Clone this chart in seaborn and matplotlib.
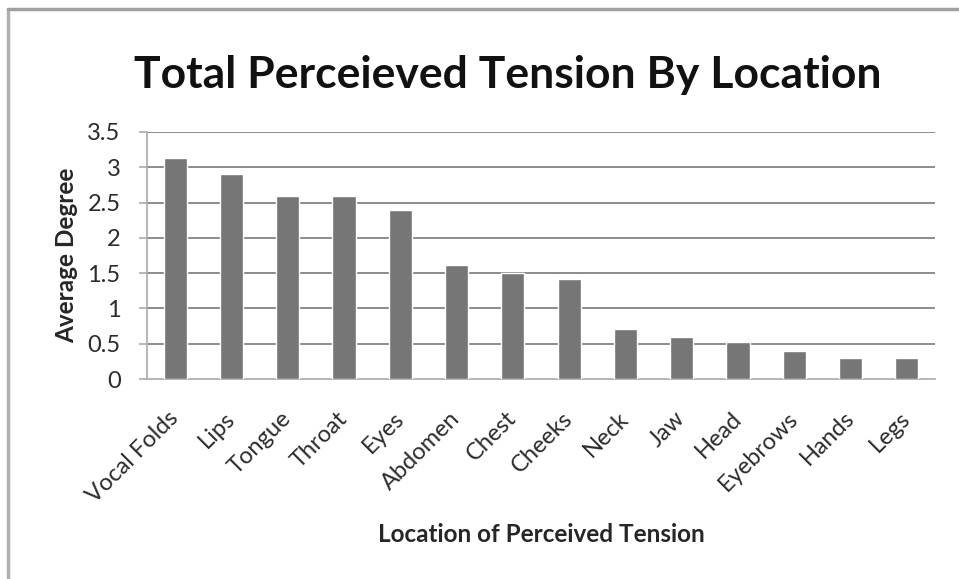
import matplotlib
matplotlib.use("Agg")
import matplotlib.pyplot as plt
import seaborn as sns
import pandas as pd
import numpy as np

locations = ["Vocal Folds", "Lips", "Tongue", "Throat", "Eyes", "Abdomen", "Chest",
             "Cheeks", "Neck", "Jaw", "Head", "Eyebrows", "Hands", "Legs"]
avg_degree = [3.13, 2.90, 2.60, 2.60, 2.40, 1.62, 1.50, 1.42, 0.71, 0.60, 0.52, 0.40, 0.30, 0.30]
y_ticks = [0, 0.5, 1, 1.5, 2, 2.5, 3, 3.5]
y_tick_labels = ["0", "0.5", "1", "1.5", "2", "2.5", "3", "3.5"]

df = pd.DataFrame({"Location": locations, "Average Degree": avg_degree})

sns.set_theme(style="white")
plt.rcParams['font.family'] = ['Lato', 'DejaVu Sans']

fig = plt.figure(figsize=(9.59, 5.79), dpi=100)
ax = fig.add_axes([147/959, 1 - 379/579, (935 - 147)/959, (379 - 132)/579])

sns.barplot(data=df, x="Location", y="Average Degree", color="#767676",
            width=0.41, saturation=1, ax=ax, zorder=3)

ax.set_ylim(0, 3.5)
ax.set_xlim(-0.5, len(locations) - 0.5)
ax.set_yticks(y_ticks)
ax.set_yticklabels(y_tick_labels, fontsize=17, color="#2b2b2b")
for y in y_ticks[1:]:
    ax.axhline(y, color="#8c8c8c", linewidth=1.4, zorder=1)

ax.set_xticks(np.arange(len(locations)))
ax.set_xticklabels(locations, rotation=45, ha="right", va="center", rotation_mode="anchor",
                   fontsize=17, color="#2b2b2b")
ax.tick_params(axis="x", length=0, pad=26)
ax.set_xticks(np.arange(len(locations) + 1) - 0.5, minor=True)
ax.tick_params(axis="x", which="minor", length=6, color="#aaaaaa", width=1.2, direction="out")
ax.tick_params(axis="y", length=6, color="#aaaaaa", width=1.2, direction="out", pad=13, left=True)

for side in ["top", "right"]:
    ax.spines[side].set_visible(False)
for side in ["left", "bottom"]:
    ax.spines[side].set_color("#aaaaaa")
    ax.spines[side].set_linewidth(1.2)

ax.set_xlabel("Location of Perceived Tension", fontsize=17.5, fontweight="bold")
ax.set_ylabel("Average Degree", fontsize=17.5, fontweight="bold")
ax.xaxis.set_label_coords(0.5, -(523 - 379) / 247)
ax.yaxis.set_label_coords(-(147 - 78) / 788, 0.5)
fig.text(508/959, 1 - 75/579, "Total Perceieved Tension By Location", fontsize=32,
         fontweight="bold", ha="center", va="center", color="#111111")

# chart border (only top and left edges visible in the crop)
fig.add_artist(plt.Line2D([8/959, 8/959], [0, 1 - 9/579], transform=fig.transFigure,
                          color="#b0b0b0", linewidth=2.5))
fig.add_artist(plt.Line2D([8/959, 1], [1 - 9/579, 1 - 9/579], transform=fig.transFigure,
                          color="#a0a0a0", linewidth=2.5))

fig.savefig("out.png", dpi=100)
